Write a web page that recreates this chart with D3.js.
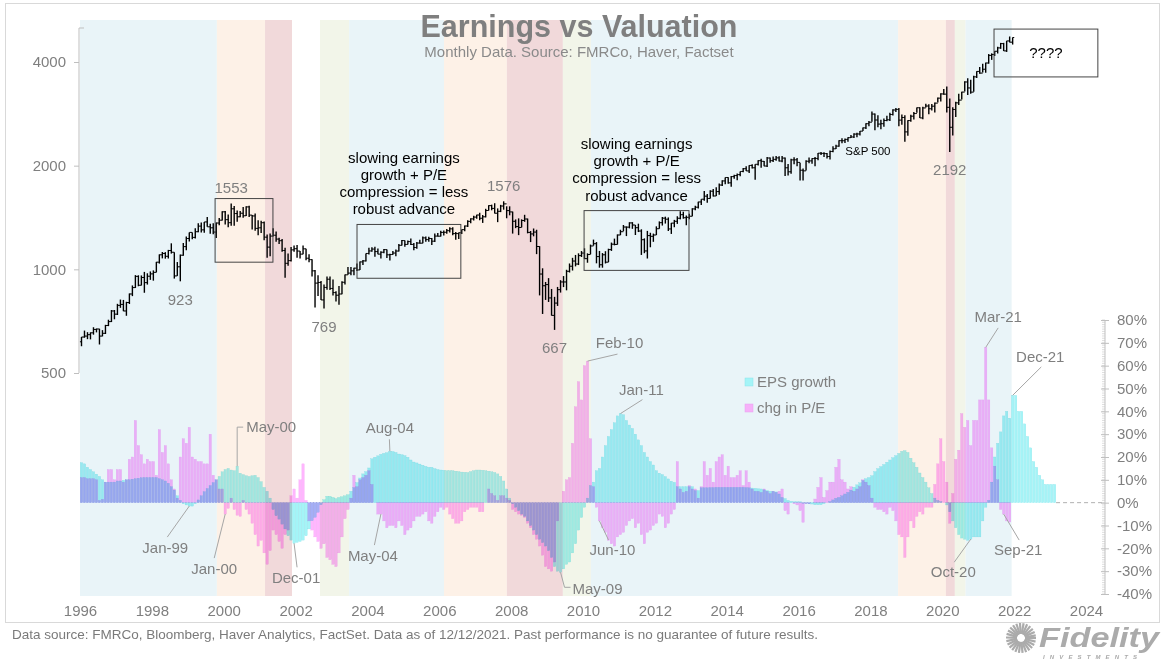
<!DOCTYPE html>
<html><head><meta charset="utf-8">
<script src="https://cdn.jsdelivr.net/npm/d3@7/dist/d3.min.js"></script>
<style>
html,body{margin:0;padding:0;background:#fff;}
svg{display:block;font-family:"Liberation Sans",Arial,Helvetica,sans-serif;}
</style></head><body>
<svg id="chart" width="1170" height="663"></svg>
<script>
// ---------------- DATA ----------------
const startYear = 1996;
const xTicks = [1996,1998,2000,2002,2004,2006,2008,2010,2012,2014,2016,2018,2020,2022,2024];
const leftTicks = [500,1000,2000,4000];
const rightTicks = [-40,-30,-20,-10,0,10,20,30,40,50,60,70,80];

// S&P 500 monthly bars, Jan 1996 - Dec 2021
const spxOpen0 = 616;
const spxClose = [
 636,640,646,654,669,671,640,652,687,705,757,741,
 786,791,757,801,848,885,954,899,947,915,955,970,
 980,1049,1102,1112,1091,1134,1121,957,1017,1099,1164,1229,
 1280,1238,1286,1335,1302,1373,1329,1320,1283,1363,1389,1469,
 1394,1366,1499,1452,1421,1455,1431,1518,1437,1429,1315,1320,
 1366,1240,1160,1249,1256,1224,1211,1134,1041,1060,1139,1148,
 1130,1107,1147,1077,1067,990,912,916,815,886,936,880,
 856,841,848,917,964,975,990,1008,996,1051,1058,1112,
 1131,1145,1126,1107,1121,1141,1102,1104,1115,1130,1174,1212,
 1181,1204,1181,1157,1192,1191,1234,1220,1229,1207,1249,1248,
 1280,1281,1295,1311,1270,1270,1277,1304,1336,1378,1401,1418,
 1438,1407,1421,1482,1531,1503,1455,1474,1527,1549,1481,1468,
 1379,1331,1323,1386,1400,1280,1267,1283,1165,969,896,903,
 826,735,798,873,919,919,987,1021,1057,1036,1096,1115,
 1074,1104,1169,1187,1089,1031,1102,1049,1141,1183,1181,1258,
 1286,1327,1326,1364,1345,1321,1292,1219,1131,1253,1247,1258,
 1312,1366,1408,1398,1310,1362,1379,1407,1441,1412,1416,1426,
 1498,1515,1569,1598,1631,1606,1686,1633,1682,1757,1806,1848,
 1783,1859,1872,1884,1924,1960,1931,2003,1972,2018,2068,2059,
 1995,2105,2068,2086,2107,2063,2104,1972,1920,2079,2080,2044,
 1940,1932,2060,2065,2097,2099,2174,2171,2168,2126,2199,2239,
 2279,2364,2363,2384,2412,2423,2470,2472,2519,2575,2648,2674,
 2824,2714,2641,2648,2705,2718,2816,2902,2914,2712,2760,2507,
 2704,2784,2834,2946,2752,2942,2980,2926,2977,3038,3141,3231,
 3226,2954,2585,2912,3044,3100,3271,3500,3363,3270,3622,3756,
 3714,3811,3973,4181,4204,4298,4395,4523,4308,4605,4567,4712
];
const spxHigh = [
 636,664,657,656,679,673,672,666,690,714,762,762,
 794,817,815,805,851,898,962,961,960,983,974,986,
 993,1051,1105,1123,1122,1139,1190,1121,1050,1104,1193,1245,
 1280,1280,1316,1362,1368,1373,1419,1357,1361,1367,1409,1474,
 1478,1444,1553,1527,1482,1478,1518,1525,1530,1437,1452,1389,
 1383,1376,1263,1270,1316,1287,1236,1225,1155,1111,1161,1173,
 1176,1130,1173,1147,1107,1070,995,962,925,903,954,954,
 935,864,895,924,966,1015,1016,1011,1040,1054,1064,1112,
 1155,1159,1163,1150,1128,1146,1141,1109,1131,1142,1184,1217,
 1212,1212,1229,1192,1200,1219,1246,1245,1244,1233,1271,1276,
 1295,1297,1310,1326,1326,1284,1280,1306,1340,1389,1407,1432,
 1441,1461,1438,1499,1535,1541,1556,1503,1539,1576,1524,1524,
 1471,1396,1406,1397,1440,1404,1292,1314,1303,1167,1007,919,
 943,877,832,889,930,956,997,1040,1080,1101,1113,1130,
 1151,1113,1180,1220,1200,1131,1115,1129,1148,1196,1228,1263,
 1303,1345,1332,1370,1371,1345,1357,1307,1230,1293,1277,1270,
 1333,1378,1419,1422,1415,1364,1392,1426,1475,1470,1434,1449,
 1504,1530,1570,1598,1687,1654,1698,1710,1730,1776,1813,1849,
 1850,1867,1883,1897,1925,1969,1991,2005,2019,2018,2075,2094,
 2065,2120,2114,2126,2135,2130,2133,2113,2021,2094,2117,2105,
 2038,1963,2075,2111,2103,2121,2178,2193,2188,2175,2214,2278,
 2301,2371,2401,2398,2419,2454,2484,2491,2520,2582,2657,2695,
 2873,2836,2801,2717,2742,2791,2848,2917,2941,2940,2815,2800,
 2708,2813,2861,2950,2955,2964,3028,3014,3022,3050,3154,3248,
 3337,3394,3136,2955,3068,3233,3280,3515,3588,3550,3646,3760,
 3870,3951,3983,4218,4238,4302,4429,4546,4546,4608,4744,4713
];
const spxLow = [
 598,633,627,626,646,656,605,639,649,684,703,716,
 737,773,756,733,793,836,883,893,898,855,903,932,
 927,980,1039,1076,1074,1075,1111,940,957,923,1095,1137,
 1205,1223,1229,1281,1280,1278,1329,1268,1264,1233,1343,1387,
 1350,1326,1339,1339,1374,1417,1413,1428,1419,1305,1295,1255,
 1275,1214,1081,1091,1246,1203,1184,1124,945,1025,1054,1124,
 1081,1075,1106,1063,1048,953,775,837,815,769,872,871,
 840,806,789,847,903,964,962,961,989,995,1029,1054,
 1105,1124,1088,1107,1076,1113,1078,1060,1102,1091,1127,1173,
 1163,1180,1176,1137,1147,1188,1191,1202,1202,1176,1201,1245,
 1245,1253,1268,1280,1255,1219,1224,1266,1291,1327,1360,1385,
 1403,1389,1364,1415,1482,1484,1453,1371,1466,1490,1407,1435,
 1270,1317,1257,1324,1374,1272,1200,1247,1107,840,742,815,
 804,734,667,783,856,888,869,979,992,1020,1029,1086,
 1071,1045,1106,1171,1041,1011,1011,1040,1049,1131,1174,1180,
 1257,1290,1249,1315,1311,1258,1283,1101,1114,1075,1159,1202,
 1258,1312,1340,1358,1292,1267,1325,1355,1397,1403,1343,1398,
 1426,1485,1501,1537,1582,1560,1605,1627,1633,1646,1747,1767,
 1771,1737,1834,1815,1862,1915,1930,1905,1964,1821,2001,1972,
 1993,1981,2040,2048,2067,2057,2045,1867,1872,1894,2019,1993,
 1812,1810,1937,2034,2025,1992,2074,2148,2120,2098,2084,2187,
 2234,2271,2322,2329,2345,2405,2407,2418,2446,2520,2557,2605,
 2682,2533,2586,2553,2594,2691,2698,2796,2864,2604,2631,2347,
 2444,2681,2722,2848,2750,2729,2953,2822,2892,2856,3050,3070,
 3214,2855,2192,2447,2767,2999,3115,3284,3209,3234,3279,3594,
 3695,3726,3723,3955,4057,4165,4234,4368,4306,4279,4560,4495
];

// EPS growth y/y %, monthly Jan 1996 - Feb 2023
const epsGrowth = [
 17.5,17,15.5,14.5,13.5,12.5,11.5,10,9,9,9,9,
 9.5,9.5,9.8,10,10,10.3,10.5,10.7,10.9,11,11,11,
 11,11,10.5,10,9.5,8.5,7,5.5,3,1,-0.5,-1,
 -1.5,-1.5,-0.5,1.2,3,4.8,6.2,7.5,8.8,10,11.5,13.5,
 14.5,15,14.3,14,16,12.9,12.3,11.8,11.5,11.8,12,11,
 9.2,6.7,5,2,-3,-5.7,-7.2,-9.4,-11.5,-14.5,-16.4,-17.8,
 -17.4,-17,-16.4,-14.5,-11.5,-7.9,-6.4,-4.2,-0.9,1.3,2.8,2.8,
 2.3,1.8,2.3,2.6,3,3.5,5,6.6,8.8,10.8,12.6,13.6,
 15.2,19.2,19.9,20.5,21.2,21.6,21.9,22.5,22.4,22,21.3,21,
 20.6,19.9,18.7,17.8,17.4,16.9,16.4,15.9,15.5,15.5,14.9,14.5,
 14.3,14.2,14,14,14,13.8,13.6,13.4,13.3,13.2,13.6,14,
 14.3,14.3,14.2,14,13.8,13.5,13.2,12.6,11.5,9.5,6,2,
 -0.5,-2,-3.5,-5,-6,-8,-10,-12,-14,-16,-17.5,-19,
 -21,-24,-28,-30,-30.5,-29,-27,-26,-22,-18,-12,-6.5,
 -2,2,7.5,9,14,15,20,25,29,32,35,38,
 39,38.5,36,34,32.5,30,27.5,25,22,20,18,16.5,
 14,12.9,12.3,11.4,10.4,9.4,8.9,7,7,7,7,7,
 7,5.3,5.3,6.5,6.5,6.5,6.6,6.6,6.7,6.7,6.7,6.7,
 6.7,6.7,6.7,6.7,6.7,6.7,6.6,6.5,6.4,6.3,6.1,6,
 5.6,5.3,5,5,4.7,3.8,2.3,1.8,1,0.6,0.4,0.4,
 0.4,-0.3,-0.3,-0.5,-0.6,-0.9,-0.9,-0.9,-0.4,0,0.5,1.2,
 1.9,2.3,3,3.8,4.5,5.5,6.8,7.8,8.7,9.7,10.5,11,
 11.8,13.6,14.9,15.8,16.7,17.7,18.7,19.7,20.6,21.6,22.5,22.8,
 22,19.5,17.5,15.5,13,11,9,6.5,4,2,1,0.5,
 0,-1,-4,-8,-11,-14,-15.5,-16,-16.5,-16,-15,-15,
 -15,-8,-2,1,9,20,26,31,38,40,37,47,
 47,40,40,34.5,29,24,18,15.5,12,10,8,8,
 8,8
];
// Change in P/E y/y %, monthly Jan 1996 - Nov 2021
const peChange = [
 11,11,10.5,10.5,10.5,10,1,1.5,9,14.5,14.5,10,
 14.5,14.5,9,10,19,20,36,25,21,17,19,18,
 18,12,32,22,25,17,10,6,2,20,28,26,
 33,20,19,18,18,17,17,30,12,10,6,6,
 -5,-2.5,2,-3,-5.5,-6,1,-3,-5,-9,-14,-19,
 -16.5,-22,-27,-21,-12,-14,-17,-20,-14,-12,3,6,
 2,10,17,1,-8,-12,-15,-17,-20,-18,-24,-25,
 -27,-28,-22,-15,-7,-3,2,12,7,10,11,12,
 14,8,0,-5,-5,-8,-11,-10,-10,-11,-8,-10,
 -14,-12,-11,-8,-6,-6,-5,-4,-8,-9,-6,-4,
 -2,-3,-2,-5,-7,-9,-9,-8,-4,-3,-2,-2,
 -2,-4,-4,0,6,4,3,1,3,3,2,1,
 -3,-4,-5,-5.5,-6.5,-9,-11,-14,-16,-19,-23,-28,
 -29,-30,-26,-8,0,5,10,11,26,42,53,45,
 60,62,28,7,-2,-8,-11,-13,-16.5,-18,-19,-15,
 -14,-13,-10,-8,-7,-11,-9,-14,-18,-13,-12,-10,
 -9,-5,-6,-11,-9,-5,-3,18,6,4.5,5,7.5,
 6,6,2,7,18,12,15,9,18,20,21,12,
 16,11,11,12,14,7.5,14,9,6,5,5,4.5,
 6,5,4,5,4.5,5,6,-3.5,-5,0,-0.5,-1,
 -3.5,-8.6,-0.5,-0.5,0,1.6,6.7,11,2.3,5.3,9,9,
 15.5,19,10,9,6,7,5,6,7,10,9,7.5,
 2,-2,-3,-3,-4,-5,-2,-3.5,-8,-14,-15,-24,
 -15,-8,-11,-6,-4,-5,-2,-2,-2,8,17,28,
 18,9,-9,4,19,23,39,33,36,25,36,36,
 45,45,68,45,24,16,10,-3,-5,-8,-8.5
];

// business-cycle phases (shaded backgrounds)
const phaseStart = [1996.0, 1999.81, 2001.15, 2002.68, 2003.49, 2006.13, 2007.88, 2009.44, 2010.22, 2018.77, 2020.1, 2020.35, 2020.65];
const phaseEnd   = [1999.81, 2001.15, 2001.9, 2003.49, 2006.13, 2007.88, 2009.44, 2010.22, 2018.77, 2020.1, 2020.35, 2020.65, 2021.93];
const phaseKind  = ["mid","late","rec","early","mid","late","rec","early","mid","late","rec","early","mid"];

// S&P value callouts
const spxNoteText  = ["1553","923","769","1576","667","2192"];
const spxNoteMonth = [50,33,81,141,158,290];
const spxNoteValue = [1553,923,769,1576,667,2192];
const spxNoteSide  = ["above","below","below","above","below","below"];

// bar callouts
const barNoteText   = ["May-00","Jan-99","Jan-00","Dec-01","Aug-04","May-04","May-09","Feb-10","Jan-11","Jun-10","Mar-21","Dec-21","Oct-20","Sep-21"];
const barNoteMonth  = [52,36,48,71,103,100,160,169,180,173,302,311,297,308];
const barNoteSeries = ["eps","eps","pe","eps","eps","pe","eps","pe","eps","pe","pe","eps","eps","pe"];

// annotation boxes: [startYear, endYear, upper S&P value, lower S&P value]
const boxStart = [1999.76, 2003.71, 2010.03, 2021.44];
const boxEnd   = [2001.37, 2006.6, 2012.95, 2024.33];
const boxHigh  = [1605, 1350, 1481, 4985];
const boxLow   = [1049, 942, 993, 3620];
const commentLines = ["slowing earnings","growth + P/E","compression = less","robust advance"];

// ---------------- LAYOUT ----------------
const svg = d3.select("#chart");
const grey = "#7f7f7f";
const xScale = d3.scaleLinear().domain([1996, 2024]).range([80, 1086]);
const monthX = m => xScale(startYear + m / 12);
const yS = d3.scaleLog().domain([500, 4000]).range([373, 62]);
const yR = d3.scaleLinear().domain([-40, 80]).range([594, 320]);
const bandTop = 20, bandBottom = 596;

svg.append("rect").attr("width",1170).attr("height",663).attr("fill","#fff");

// phase bands
const phaseColor = {mid:"#e9f4f8", late:"#fdf1e7", rec:"#f1d9da", early:"#f2f5e9"};
svg.append("g").selectAll("rect").data(phaseKind.map((k,i)=>({k, s:phaseStart[i], e:phaseEnd[i]}))).join("rect")
  .attr("x", d=>xScale(d.s)).attr("width", d=>xScale(d.e)-xScale(d.s))
  .attr("y", bandTop).attr("height", bandBottom-bandTop)
  .attr("fill", d=>phaseColor[d.k]);

// frame
svg.append("rect").attr("x",5.5).attr("y",3.5).attr("width",1154).attr("height",619)
  .attr("fill","none").attr("stroke","#d9d9d9");

// bars
const bw = monthX(1) - monthX(0);
const y0 = yR(0);
function drawSeries(values, fill, stroke) {
  svg.append("g").selectAll("rect")
    .data(values.map((v,i)=>({v,i})).filter(d=>d.v!==0)).join("rect")
    .attr("x", d=>monthX(d.i)+0.3).attr("width", bw-0.6)
    .attr("y", d=>Math.min(yR(d.v), y0)).attr("height", d=>Math.abs(yR(d.v)-y0))
    .attr("fill", fill).attr("stroke", stroke).attr("stroke-width", 0.3)
    .style("mix-blend-mode","multiply");
}
drawSeries(peChange, "#ffb6fe", "#f4a6f6");
drawSeries(epsGrowth, "#a4f4f7", "#8ce4ea");

// zero dashed line to the right axis
svg.append("line").attr("x1", monthX(epsGrowth.length)).attr("x2", 1105)
  .attr("y1", y0).attr("y2", y0).attr("stroke","#b0b0b0").attr("stroke-dasharray","4,3");

// S&P OHLC bars
const spx = spxClose.map((c,i)=>({i, c, o: i ? spxClose[i-1] : spxOpen0, h: spxHigh[i], l: spxLow[i]}));
const gS = svg.append("g").attr("stroke","#000").attr("stroke-width",1.4);
const bar = gS.selectAll("g").data(spx).join("g");
bar.append("line").attr("x1", d=>monthX(d.i+0.5)).attr("x2", d=>monthX(d.i+0.5))
  .attr("y1", d=>yS(d.h)).attr("y2", d=>yS(d.l));
bar.append("line").attr("x1", d=>monthX(d.i+0.5)-1.6).attr("x2", d=>monthX(d.i+0.5))
  .attr("y1", d=>yS(d.o)).attr("y2", d=>yS(d.o)).attr("stroke-width",1);
bar.append("line").attr("x1", d=>monthX(d.i+0.5)).attr("x2", d=>monthX(d.i+0.5)+1.6)
  .attr("y1", d=>yS(d.c)).attr("y2", d=>yS(d.c)).attr("stroke-width",1);

// boxes
boxStart.forEach((s,i)=>{
  svg.append("rect").attr("x", xScale(s)).attr("y", yS(boxHigh[i]))
    .attr("width", xScale(boxEnd[i])-xScale(s)).attr("height", yS(boxLow[i])-yS(boxHigh[i]))
    .attr("fill","none").attr("stroke","#444").attr("stroke-width",1);
});
// comments above boxes 2 and 3
[1,2].forEach(b=>{
  const cx = (xScale(boxStart[b])+xScale(boxEnd[b]))/2 - (b===1?5:0);
  const top = yS(boxHigh[b]);
  commentLines.forEach((t,k)=>{
    svg.append("text").attr("x", cx).attr("y", top - 10 - (commentLines.length-1-k)*17.3)
      .attr("text-anchor","middle").attr("font-size",15).attr("fill","#000").text(t);
  });
});
svg.append("text").attr("x", (xScale(boxStart[3])+xScale(boxEnd[3]))/2)
  .attr("y", (yS(boxHigh[3])+yS(boxLow[3]))/2+5).attr("text-anchor","middle")
  .attr("font-size",15).attr("fill","#000").text("????");

// S&P callouts
spxNoteText.forEach((t,i)=>{
  const x = monthX(spxNoteMonth[i]+0.5);
  const y = yS(spxNoteValue[i]) + (spxNoteSide[i]==="above" ? -16 : 18);
  svg.append("text").attr("x", x).attr("y", y).attr("dy","0.35em").attr("text-anchor","middle")
    .attr("font-size",15).attr("fill",grey).text(t);
});
svg.append("text").attr("x", xScale(2017.93)).attr("y", yS(2206)).attr("dy","0.35em")
  .attr("text-anchor","middle").attr("font-size",11.5).attr("fill","#000").text("S&P 500");

// bar callouts (leader offsets in px relative to bar tip)
const noteLayout = {
  "May-00": {path:[[0,0],[0,-39],[6,-39]], tx:9,  ty:-39, anchor:"start"},
  "Jan-99": {path:[[0,0],[-22,31]],        tx:-24, ty:42, anchor:"middle"},
  "Jan-00": {path:[[0,0],[-11,44]],        tx:-11, ty:55, anchor:"middle"},
  "Dec-01": {path:[[0,0],[3,24]],          tx:2,  ty:34, anchor:"middle"},
  "Aug-04": {path:[[0,0],[-0.5,-12]],      tx:0,  ty:-24, anchor:"middle"},
  "May-04": {path:[[0,0],[-6.5,31]],       tx:-8, ty:42, anchor:"middle"},
  "May-09": {path:[[0,0],[4,15],[10,15]],  tx:12, ty:16, anchor:"start"},
  "Feb-10": {path:[[0,0],[30,-7]],         tx:32, ty:-18, anchor:"middle"},
  "Jan-11": {path:[[0,0],[22,-14]],        tx:21, ty:-24, anchor:"middle"},
  "Jun-10": {path:[[0,0],[9,19]],          tx:13, ty:29, anchor:"middle"},
  "Mar-21": {path:[[0,0],[12.5,-19.5]],    tx:12.5, ty:-30.5, anchor:"middle"},
  "Dec-21": {path:[[0,0],[28.6,-28.4]],    tx:27.6, ty:-38.4, anchor:"middle"},
  "Oct-20": {path:[[0,0],[-16.5,23]],      tx:-17.5, ty:33, anchor:"middle"},
  "Sep-21": {path:[[0,0],[15.5,26]],       tx:14.5, ty:36, anchor:"middle"}
};
barNoteText.forEach((t,i)=>{
  const m = barNoteMonth[i];
  const v = barNoteSeries[i]==="eps" ? epsGrowth[m] : peChange[m];
  const tipX = monthX(m) + bw/2, tipY = yR(v);
  const L = noteLayout[t];
  svg.append("path").attr("d", d3.line()(L.path.map(p=>[tipX+p[0], tipY+p[1]])))
    .attr("fill","none").attr("stroke","#a6a6a6").attr("stroke-width",1);
  svg.append("text").attr("x", tipX+L.tx).attr("y", tipY+L.ty).attr("dy","0.35em")
    .attr("text-anchor", L.anchor).attr("font-size",15).attr("fill",grey).text(t);
});

// legend
const legend = [{t:"EPS growth", c:"#a4f4f7", s:"#8ce4ea"},{t:"chg in P/E", c:"#f6b0f9", s:"#e8a0ee"}];
legend.forEach((d,i)=>{
  const ly = 382 + i*26;
  svg.append("rect").attr("x",745).attr("y",ly-4).attr("width",8).attr("height",8)
    .attr("fill",d.c).attr("stroke",d.s).attr("stroke-width",0.5);
  svg.append("text").attr("x",757).attr("y",ly).attr("dy","0.35em").attr("font-size",15)
    .attr("fill",grey).text(d.t);
});

// left axis
const gL = svg.append("g").attr("transform","translate(79,0)")
  .call(d3.axisLeft(yS).tickValues(leftTicks).tickFormat(d3.format("d")).tickSize(5).tickPadding(8));
gL.select(".domain").remove();
gL.selectAll(".tick line").attr("stroke","#bfbfbf");
gL.selectAll("text").attr("font-size",15).attr("fill",grey).attr("font-family",null);
svg.append("line").attr("x1",79).attr("x2",79).attr("y1",28).attr("y2",yS(500)).attr("stroke","#bfbfbf");
svg.append("line").attr("x1",79).attr("x2",84).attr("y1",28).attr("y2",28).attr("stroke","#bfbfbf");

// right axis
const gR = svg.append("g").attr("transform","translate(1105,0)");
gR.append("line").attr("x1",0).attr("x2",0).attr("y1",yR(80)).attr("y2",yR(-40)).attr("stroke","#bfbfbf");
gR.selectAll("line.minor").data(d3.range(-40,81,1)).join("line").attr("class","minor")
  .attr("x1",-3).attr("x2",0).attr("y1",d=>yR(d)).attr("y2",d=>yR(d)).attr("stroke","#c8c8c8").attr("stroke-width",0.6);
const gRa = gR.append("g").call(d3.axisRight(yR).tickValues(rightTicks).tickFormat(d=>d+"%").tickSize(4).tickPadding(8));
gRa.select(".domain").remove();
gRa.selectAll(".tick line").attr("x1",-4).attr("stroke","#bfbfbf");
gRa.selectAll("text").attr("font-size",15).attr("fill",grey).attr("font-family",null);

// bottom axis
const gB = svg.append("g").attr("transform","translate(0,600)")
  .call(d3.axisBottom(xScale).tickValues(xTicks).tickFormat(d3.format("d")).tickSize(0).tickPadding(5));
gB.select(".domain").remove();
gB.selectAll("text").attr("font-size",15).attr("fill",grey).attr("font-family",null);

// titles
svg.append("text").attr("x",579).attr("y",37).attr("text-anchor","middle")
  .attr("font-size",30.5).attr("font-weight","bold").attr("fill","#7f7f7f").text("Earnings vs Valuation");
svg.append("text").attr("x",579).attr("y",57).attr("text-anchor","middle")
  .attr("font-size",15).attr("fill","#8a8a8a").text("Monthly Data. Source: FMRCo, Haver, Factset");

// footer
svg.append("text").attr("x",12).attr("y",639).attr("font-size",13.5).attr("fill","#7a7a7a")
  .text("Data source: FMRCo, Bloomberg, Haver Analytics, FactSet. Data as of 12/12/2021. Past performance is no guarantee of future results.");

// Fidelity logo
const logo = svg.append("g").attr("fill","#ababab").attr("stroke","#ababab");
d3.range(0, 360, 14).forEach(a=>{
  const r = a*Math.PI/180;
  logo.append("line").attr("x1",1021+Math.cos(r)*4).attr("y1",638+Math.sin(r)*4)
    .attr("x2",1021+Math.cos(r)*15).attr("y2",638+Math.sin(r)*15).attr("stroke-width",2.2);
});
logo.append("text").attr("x",1039).attr("y",647).attr("stroke","none").attr("font-size",27)
  .attr("font-weight","bold").attr("font-style","italic")
  .attr("textLength",120).attr("lengthAdjust","spacingAndGlyphs").text("Fidelity");
logo.append("text").attr("x",1043).attr("y",659).attr("stroke","none").attr("font-size",6)
  .attr("font-weight","bold").attr("font-style","italic")
  .attr("textLength",94).attr("lengthAdjust","spacing").text("INVESTMENTS");
</script>
</body></html>
